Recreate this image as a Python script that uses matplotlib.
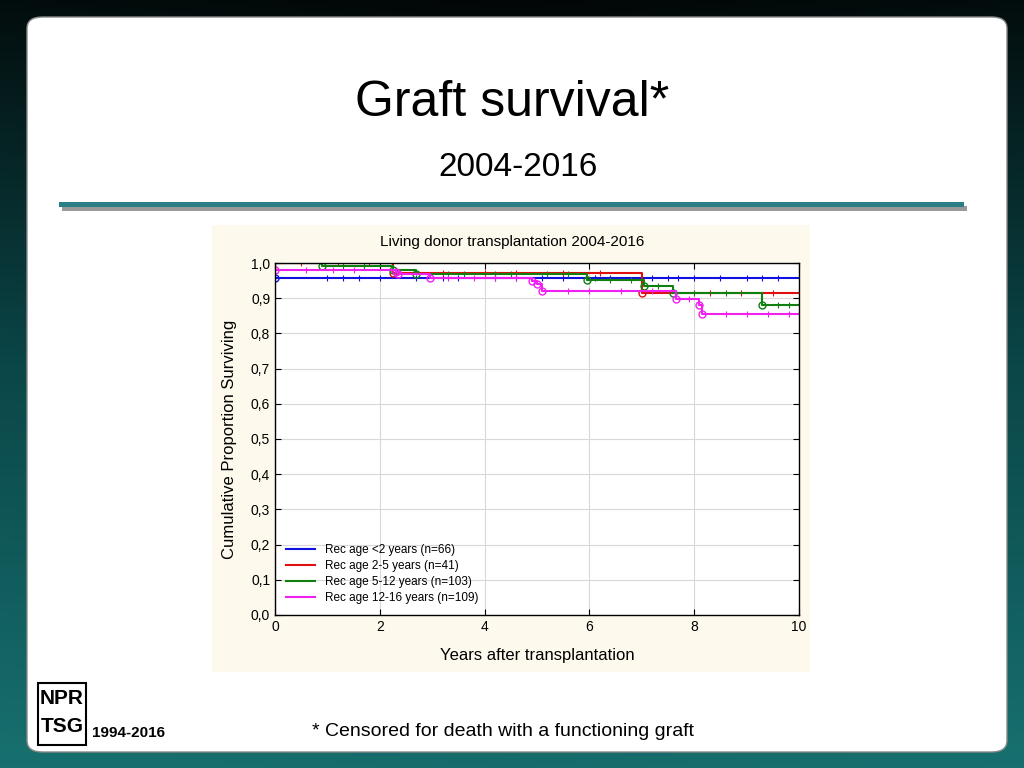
import numpy as np
import matplotlib.pyplot as plt
from matplotlib.patches import FancyBboxPatch, Rectangle
from matplotlib.colors import LinearSegmentedColormap

plt.rcParams["font.family"] = "Liberation Sans"

# Kaplan-Meier step data: (event times, survival after each step)
blue_t = [0.0]
blue_s = [0.957]
red_t = [2.25, 7.0]
red_s = [0.973, 0.915]
green_t = [0.9, 2.25, 2.7, 5.95, 7.05, 7.6, 9.3]
green_s = [0.992, 0.98, 0.968, 0.953, 0.935, 0.915, 0.88]
magenta_t = [0.0, 2.3, 2.35, 2.95, 4.9, 5.0, 5.1, 7.65, 8.1, 8.15]
magenta_s = [0.98, 0.975, 0.97, 0.958, 0.95, 0.94, 0.92, 0.898, 0.88, 0.855]

blue_cens = [1.0, 1.3, 1.6, 2.0, 2.7, 3.2, 3.5, 4.2, 4.6, 5.1, 5.5, 6.1, 6.4, 7.2, 7.5, 7.7, 8.0, 8.5, 9.0, 9.3, 9.6]
red_cens = [0.5, 1.2, 1.8, 3.2, 4.0, 4.6, 5.5, 6.2, 8.3, 8.9, 9.5]
green_cens = [1.3, 1.7, 3.3, 3.6, 4.2, 4.5, 5.2, 5.6, 6.4, 6.8, 7.3, 8.0, 8.6, 9.6, 9.8]
magenta_cens = [0.6, 1.1, 1.5, 3.3, 3.8, 4.2, 4.6, 5.6, 6.0, 6.6, 7.2, 7.9, 8.6, 9.0, 9.4, 9.8]

labels = ["Rec age <2 years (n=66)", "Rec age 2-5 years (n=41)",
          "Rec age 5-12 years (n=103)", "Rec age 12-16 years (n=109)"]
colors = ["#1010e0", "#e01010", "#108010", "#f020f0"]


def step_curve(times, surv):
    x = [0.0]
    y = [1.0]
    cur = 1.0
    for t, s in zip(times, surv):
        x += [t, t]
        y += [cur, s]
        cur = s
    x.append(10.0)
    y.append(cur)
    return np.array(x), np.array(y)


def surv_at(times, surv, t):
    cur = 1.0
    for tt, s in zip(times, surv):
        if tt <= t:
            cur = s
    return cur


fig = plt.figure(figsize=(10.24, 7.68), dpi=100)

# background gradient: dark at top, teal at bottom
bg = fig.add_axes([0, 0, 1, 1])
gx = np.linspace(0, 1, 200)
gy = np.linspace(0, 1, 200)
X, Y = np.meshgrid(gx, gy)
grad = np.clip(Y * 0.9 + 0.1 * np.abs(X - 0.5), 0, 1)
cmap = LinearSegmentedColormap.from_list("teal", ["#020606", "#0b4648", "#17706f"])
bg.imshow(grad, cmap=cmap, extent=[0, 1, 0, 1], aspect="auto", origin="upper")
bg.set_xlim(0, 1)
bg.set_ylim(0, 1)
bg.axis("off")

W, H = 1024, 768
def fx(px):
    return px / W
def fy(py):
    return 1 - py / H

bg.add_patch(FancyBboxPatch((fx(27), fy(752)), fx(980), 735 / H,
                            boxstyle="round,pad=0,rounding_size=0.015",
                            facecolor="white", edgecolor="#888888", lw=1))
# teal separator with shadow
bg.add_patch(Rectangle((fx(62), fy(211)), fx(905), 5 / H, facecolor="#999999", edgecolor="none"))
bg.add_patch(Rectangle((fx(59), fy(207)), fx(905), 5 / H, facecolor="#2a7f86", edgecolor="none"))
# cream chart panel
bg.add_patch(Rectangle((fx(212), fy(672)), fx(598), 447 / H, facecolor="#fdf9ec", edgecolor="none"))

fig.text(fx(512), fy(103), "Graft survival*", ha="center", va="center", fontsize=36)
fig.text(fx(518), fy(168), "2004-2016", ha="center", va="center", fontsize=24)
fig.text(fx(512), fy(242), "Living donor transplantation 2004-2016", ha="center", va="center",
         fontsize=11)
fig.text(fx(503), fy(731), "* Censored for death with a functioning graft", ha="center",
         va="center", fontsize=14)
fig.text(fx(92), fy(733), "1994-2016", ha="left", va="center", fontsize=11, fontweight="bold")
# logo
bg.add_patch(Rectangle((fx(38), fy(745)), fx(48), 62 / H, facecolor="white",
                       edgecolor="black", lw=1.5))
fig.text(fx(62), fy(698), "NPR", ha="center", va="center", fontsize=15, fontweight="bold",
         color="black")
fig.text(fx(62), fy(727), "TSG", ha="center", va="center", fontsize=15, fontweight="bold",
         color="black")

ax = fig.add_axes([fx(275), fy(615), fx(524), 352 / H])
ax.set_facecolor("white")
series = [(blue_t, blue_s, blue_cens), (red_t, red_s, red_cens),
          (green_t, green_s, green_cens), (magenta_t, magenta_s, magenta_cens)]
for (t, s, c), col, lab in zip(series, colors, labels):
    x, y = step_curve(t, s)
    ax.plot(x, y, color=col, lw=1.5, label=lab)
    ax.plot(t, s, "o", mfc="none", mec=col, ms=5, mew=1)
    ax.plot(c, [surv_at(t, s, cc) for cc in c], "|", color=col, ms=5, mew=0.8)

ax.set_xlim(0, 10)
ax.set_ylim(0, 1.0)
ax.set_xticks(np.arange(0, 11, 2))
yt = np.round(np.arange(0, 1.01, 0.1), 1)
ax.set_yticks(yt)
ax.set_yticklabels([f"{v:.1f}".replace(".", ",") for v in yt])
ax.grid(True, color="#d8d8d8", lw=0.8)
ax.tick_params(labelsize=10, direction="in", top=True, right=True, length=4)
for sp in ax.spines.values():
    sp.set_linewidth(1)
ax.set_xlabel("Years after transplantation", fontsize=12, labelpad=10)
ax.set_ylabel("Cumulative Proportion Surviving", fontsize=12, labelpad=10)
ax.legend(loc="lower left", frameon=False, fontsize=8.5, handlelength=2.5,
          labelspacing=0.35, bbox_to_anchor=(0.0, 0.0))

fig.savefig("out.png", dpi=100)
